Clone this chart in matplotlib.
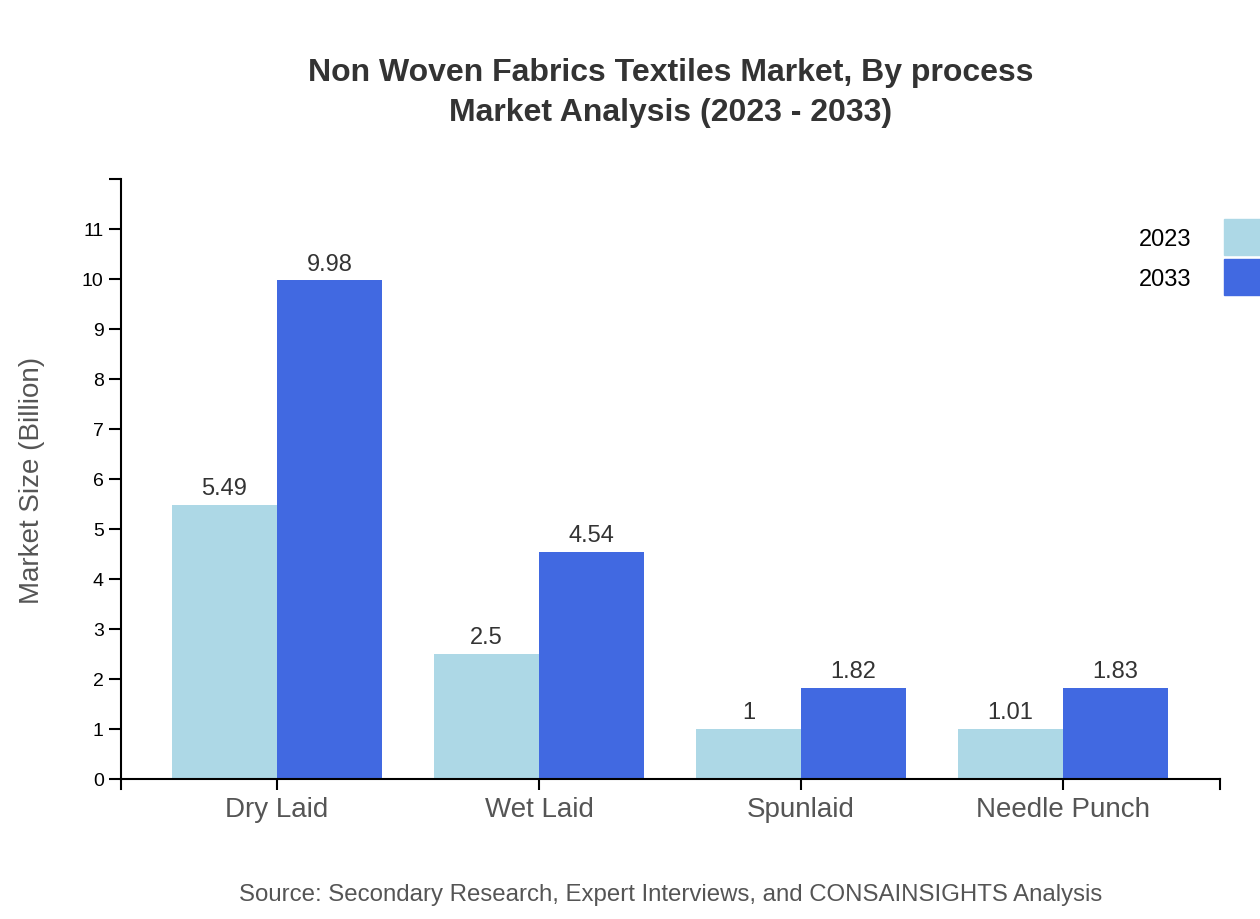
import numpy as np
import matplotlib

matplotlib.use("Agg")
import matplotlib.pyplot as plt

plt.rcParams["font.family"] = ["Liberation Sans", "DejaVu Sans"]

CATEGORIES = ["Dry Laid", "Wet Laid", "Spunlaid", "Needle Punch"]
SERIES = ["2023", "2033"]
VALUES_2023 = [5.49, 2.5, 1, 1.01]
VALUES_2033 = [9.98, 4.54, 1.82, 1.83]
COLORS = ["#add8e6", "#4169e1"]
Y_TICKS = list(range(0, 12))


def fmt(v):
    return f"{v:g}"


def main():
    fig = plt.figure(figsize=(12.6, 9.2), dpi=100)
    ax = fig.add_axes([121 / 1260, 140 / 920, 1099 / 1260, 600 / 920])

    # band scale: step 262 px, first band centre 156 px from the axis
    step = 262
    x = np.arange(len(CATEGORIES))
    width = 105 / step
    for i, (vals, color) in enumerate(zip([VALUES_2023, VALUES_2033], COLORS)):
        pos = x + (i - 0.5) * width
        ax.bar(pos, vals, width=width, color=color, label=SERIES[i])
        for px, v in zip(pos, vals):
            ax.text(px, v + 0.11, fmt(v), ha="center", va="bottom",
                    fontsize=17, color="#333333")

    ax.set_xlim(-156 / step, -156 / step + 1099 / step)
    ax.set_ylim(0, 12)
    ax.set_xticks(x, labels=CATEGORIES)
    ax.set_yticks(Y_TICKS + [12], labels=[str(t) for t in Y_TICKS] + [""])
    ax.tick_params(axis="x", length=8, width=1.5, labelsize=20, labelcolor="#555555", pad=4)
    ax.tick_params(axis="y", length=8.5, width=1.5, labelsize=14, labelcolor="black", pad=4)
    for side in ["top", "right"]:
        ax.spines[side].set_visible(False)
    for side in ["left", "bottom"]:
        ax.spines[side].set_linewidth(1.5)

    # outer end ticks of the x domain, d3 style
    for xe in ax.get_xlim():
        ax.plot([xe, xe], [0, -0.19], color="black", lw=1.5, clip_on=False)

    ax.set_ylabel("Market Size (Billion)", fontsize=20, color="#555555")
    ax.yaxis.set_label_coords(-76 / 1099, 0.5)

    fig.text(0.532, 1 - 73 / 920, "Non Woven Fabrics Textiles Market, By process",
             ha="center", va="center", fontsize=23, fontweight="bold", color="#333333")
    fig.text(0.532, 1 - 113 / 920, "Market Analysis (2023 - 2033)",
             ha="center", va="center", fontsize=23, fontweight="bold", color="#333333")

    # legend drawn by hand at top right, partly clipped by the figure edge
    for i, (name, color) in enumerate(zip(SERIES, COLORS)):
        top = 220 + i * 40
        fig.patches.append(plt.Rectangle((1224 / 1260, 1 - (top + 36) / 920), 40 / 1260, 36 / 920,
                                         transform=fig.transFigure, color=color))
        fig.text(1191 / 1260, 1 - (top + 20) / 920, name, ha="right", va="center",
                 fontsize=17, color="black")

    fig.text(0.532, 1 - 895 / 920,
             "Source: Secondary Research, Expert Interviews, and CONSAINSIGHTS Analysis",
             ha="center", va="center", fontsize=17.3, color="#555555")

    fig.savefig("out.png", dpi=100)
    plt.close(fig)


if __name__ == "__main__":
    main()
